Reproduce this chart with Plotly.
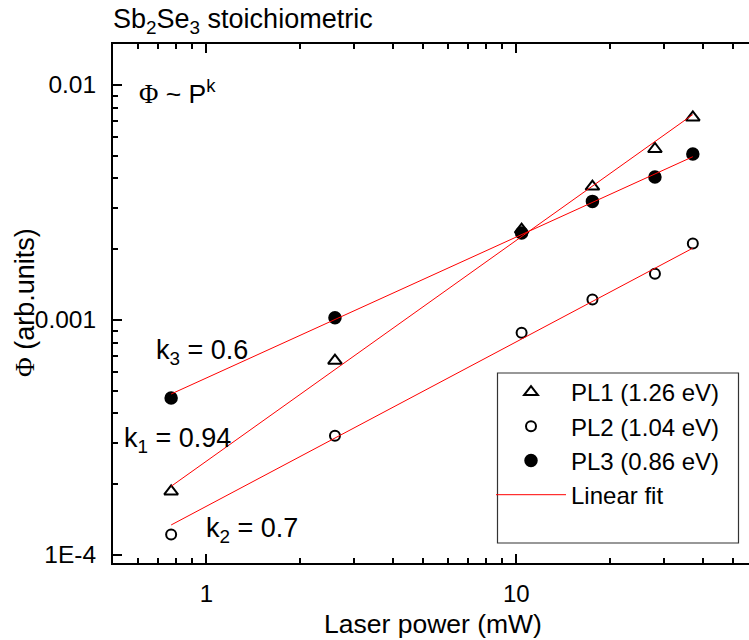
import numpy as np
import plotly.graph_objects as go

# Laser power (mW) and integrated PL intensity (arb. units) for each band
power = [0.77, 2.6, 10.4, 17.6, 28.0, 37.1]
pl1 = [1.86e-4, 6.7e-4, 2.42e-3, 3.69e-3, 5.33e-3, 7.26e-3]
pl2 = [1.22e-4, 3.21e-4, 8.8e-4, 1.22e-3, 1.57e-3, 2.11e-3]
pl3 = [4.65e-4, 1.02e-3, 2.34e-3, 3.19e-3, 4.05e-3, 5.07e-3]

series_names = ["PL1 (1.26 eV)", "PL2 (1.04 eV)", "PL3 (0.86 eV)"]
exponents = [0.94, 0.7, 0.6]          # k1, k2, k3 in  Phi ~ P^k
symbols = ["triangle-up-open", "circle-open", "circle"]
sizes = [12, 10, 11.5]

x_ticks = [1, 10]
x_ticktext = ["1", "10"]
y_ticks = [1e-4, 1e-3, 1e-2]
y_ticktext = ["1E-4", "0.001", "0.01"]

W, H = 749, 640
ML, MR, MT, MB = 113, 0, 44, 77
PW, PH = W - ML - MR, H - MT - MB


def px(x):
    return (x - ML) / PW


def py(y):
    return (H - MB - y) / PH


FONT = "Liberation Sans, Arial, sans-serif"
SERIF = "Liberation Serif, Times New Roman, serif"

fig = go.Figure()

for name, vals, sym, sz in zip(series_names, [pl1, pl2, pl3], symbols, sizes):
    fig.add_trace(go.Scatter(
        x=power, y=vals, mode="markers", name=name,
        marker=dict(symbol=sym, size=sz, color="black",
                    line=dict(color="black", width=2)),
    ))

# power-law fits with the stated exponents; intercept from least squares in log space
lx = np.log10(power)
for i, (vals, k) in enumerate(zip([pl1, pl2, pl3], exponents)):
    ly = np.log10(vals)
    b = np.mean(ly) - k * np.mean(lx)
    xs = np.array([min(power), max(power)])
    ys = 10 ** (b + k * np.log10(xs))
    fig.add_trace(go.Scatter(
        x=xs, y=ys, mode="lines", name="Linear fit",
        line=dict(color="red", width=1), showlegend=(i == 0),
    ))

minor_x = [v * m for v in (0.1, 1, 10) for m in range(2, 10)]
minor_y = [v * m for v in (1e-5, 1e-4, 1e-3, 1e-2) for m in range(2, 10)]

x_lo = np.log10(0.5)
fig.update_xaxes(
    type="log", range=[x_lo, x_lo + PW / 310.0],
    tickmode="array", tickvals=x_ticks, ticktext=x_ticktext,
    ticks="inside", ticklen=9, tickwidth=1.5, tickcolor="black",
    minor=dict(tickmode="array", tickvals=minor_x, ticks="inside",
               ticklen=5, tickwidth=1.5, tickcolor="black"),
    showline=True, linecolor="black", linewidth=2, mirror="ticks",
    showgrid=False, zeroline=False,
    tickfont=dict(family=FONT, size=24, color="black"),
    ticklabelstandoff=8,
)
fig.update_yaxes(
    type="log", range=[-4.035, -4.035 + PH / 235.0],
    tickmode="array", tickvals=y_ticks, ticktext=y_ticktext,
    ticks="inside", ticklen=9, tickwidth=1.5, tickcolor="black",
    minor=dict(tickmode="array", tickvals=minor_y, ticks="inside",
               ticklen=5, tickwidth=1.5, tickcolor="black"),
    showline=True, linecolor="black", linewidth=2, mirror=False,
    showgrid=False, zeroline=False,
    tickfont=dict(family=FONT, size=24.5, color="black"),
    ticklabelstandoff=10,
)

annotations = [
    dict(text="Sb<sub>2</sub>Se<sub>3</sub> stoichiometric", x=px(111), y=py(21),
         xanchor="left", yanchor="middle", font=dict(size=27)),
    dict(text="Laser power (mW)", x=px(433), y=py(624), xanchor="center", yanchor="middle",
         font=dict(size=26.5)),
    dict(text=f"<span style='font-family:{SERIF}'>Φ</span> (arb.units)", x=px(25), y=py(303),
         xanchor="center", yanchor="middle", textangle=-90, font=dict(size=27)),
    dict(text=f"<span style='font-family:{SERIF}'>Φ</span> ~ P<sup>k</sup>", x=px(137), y=py(92),
         xanchor="left", yanchor="middle", font=dict(size=26.5)),
    dict(text="k<sub>3</sub> = 0.6", x=px(154), y=py(352), xanchor="left", yanchor="middle",
         font=dict(size=27)),
    dict(text="k<sub>1</sub> = 0.94", x=px(122), y=py(440), xanchor="left", yanchor="middle",
         font=dict(size=27)),
    dict(text="k<sub>2</sub> = 0.7", x=px(204), y=py(530), xanchor="left", yanchor="middle",
         font=dict(size=27)),
]
for a in annotations:
    a["xref"] = "paper"
    a["yref"] = "paper"
    a["showarrow"] = False
    a["font"] = dict(family=FONT, color="black", **a["font"])

fig.update_layout(
    width=W, height=H,
    margin=dict(l=ML, r=MR, t=MT, b=MB, pad=0),
    paper_bgcolor="white", plot_bgcolor="white",
    font=dict(family=FONT, color="black"),
    annotations=annotations,
    shapes=[dict(type="rect", xref="paper", yref="paper",
                 x0=px(497.5), x1=px(738.5), y0=py(543), y1=py(373),
                 line=dict(color="#333333", width=1.2), fillcolor="rgba(0,0,0,0)")],
    legend=dict(x=px(491), y=py(370), xanchor="left", yanchor="top",
                bgcolor="rgba(0,0,0,0)", borderwidth=0,
                font=dict(family=FONT, size=24, color="black"),
                itemwidth=70, tracegroupgap=0, traceorder="normal"),
)

fig.write_html("out.html")
